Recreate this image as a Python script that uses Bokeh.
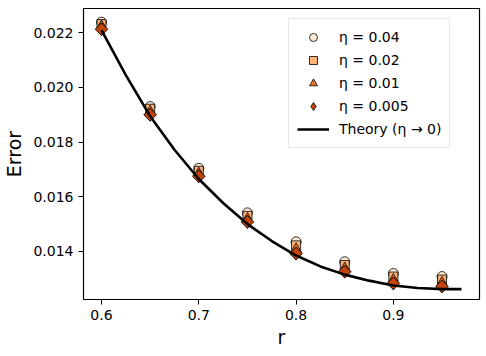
from bokeh.plotting import figure
from bokeh.models import Range1d, FixedTicker, PrintfTickFormatter, Legend, LegendItem
from bokeh.embed import file_html
from bokeh.resources import INLINE

r = [0.6, 0.65, 0.7, 0.75, 0.8, 0.85, 0.9, 0.95]
err_004 = [0.02239, 0.01930, 0.01704, 0.01541, 0.01435, 0.01362, 0.01319, 0.01308]
err_002 = [0.02232, 0.01922, 0.01695, 0.01530, 0.01422, 0.01350, 0.01308, 0.01297]
err_001 = [0.02224, 0.01912, 0.01685, 0.01519, 0.01408, 0.01338, 0.01296, 0.01285]
err_0005 = [0.02213, 0.01900, 0.01675, 0.01508, 0.01392, 0.01326, 0.01283, 0.01272]

theory_r = [0.6, 0.625, 0.65, 0.675, 0.7, 0.725, 0.75, 0.775, 0.8, 0.825, 0.85,
            0.875, 0.9, 0.925, 0.95, 0.97]
theory_err = [0.02210, 0.02045, 0.01895, 0.01772, 0.01665, 0.01577, 0.01500, 0.01438,
              0.01385, 0.01345, 0.01315, 0.01293, 0.01275, 0.01266, 0.01262, 0.01262]

labels = ["η = 0.04", "η = 0.02", "η = 0.01", "η = 0.005", "Theory (η → 0)"]
x_ticks = [0.6, 0.7, 0.8, 0.9]
y_ticks = [0.014, 0.016, 0.018, 0.020, 0.022]

FONT = "DejaVu Sans"

p = figure(frame_width=396, frame_height=291, output_backend="svg", toolbar_location=None,
           x_range=Range1d(0.5815, 0.9885), y_range=Range1d(0.01224, 0.02289),
           min_border_left=80, min_border_right=2, min_border_top=8, min_border_bottom=50)
p.background_fill_color = "white"
p.border_fill_color = "white"
p.outline_line_color = "#000000"
p.outline_line_width = 1.2
p.xgrid.visible = False
p.ygrid.visible = False

for ax in (p.xaxis[0], p.yaxis[0]):
    ax.axis_line_color = None
    ax.major_tick_out = 5
    ax.major_tick_in = 0
    ax.minor_tick_line_color = None
    ax.major_tick_line_color = "#000000"
    ax.major_label_text_font = FONT
    ax.major_label_text_font_size = "14px"
    ax.major_label_text_color = "#000000"
    ax.axis_label_text_font = FONT
    ax.axis_label_text_font_size = "19px"
    ax.axis_label_text_font_style = "normal"
    ax.axis_label_text_color = "#000000"

p.xaxis.ticker = FixedTicker(ticks=x_ticks)
p.xaxis.formatter = PrintfTickFormatter(format="%.1f")
p.yaxis.ticker = FixedTicker(ticks=y_ticks)
p.yaxis.formatter = PrintfTickFormatter(format="%.3f")
p.xaxis.axis_label = "r"
p.yaxis.axis_label = "Error"
p.xaxis.major_label_standoff = 5
p.yaxis.major_label_standoff = 5
p.xaxis.axis_label_standoff = 3
p.yaxis.axis_label_standoff = 5

c1 = p.scatter(r, err_004, marker="circle", size=10, fill_color="#feebd8",
               line_color="#000000", line_width=0.8)
c2 = p.scatter(r, err_002, marker="square", size=9, fill_color="#fdb37a",
               line_color="#000000", line_width=0.8)
c3 = p.scatter(r, err_001, marker="triangle", size=11, fill_color="#f0701e",
               line_color="#000000", line_width=0.8)
# diamond drawn under the rotated square, used as the legend swatch
c4_leg = p.scatter(r, err_0005, marker="diamond", size=13, fill_color="#c2440b",
                   line_color="#000000", line_width=0.8)
c4 = p.scatter(r, err_0005, marker="square", size=9, angle=0.7854, fill_color="#c2440b",
               line_color="#000000", line_width=0.8)
ln = p.line(theory_r, theory_err, line_color="#000000", line_width=2.6)

legend = Legend(items=[LegendItem(label=labels[0], renderers=[c1]),
                       LegendItem(label=labels[1], renderers=[c2]),
                       LegendItem(label=labels[2], renderers=[c3]),
                       LegendItem(label=labels[3], renderers=[c4_leg]),
                       LegendItem(label=labels[4], renderers=[ln])],
                location=(205, 151))
legend.label_text_font = FONT
legend.label_text_font_size = "14px"
legend.label_text_color = "#000000"
legend.border_line_color = "#d0d0d0"
legend.border_line_width = 1
legend.background_fill_alpha = 0.9
legend.glyph_width = 32
legend.glyph_height = 20
legend.label_height = 20
legend.spacing = 3
legend.padding = 8
legend.label_standoff = 10
legend.margin = 0
p.add_layout(legend, "center")

open("out.html", "w").write(file_html(p, INLINE))
